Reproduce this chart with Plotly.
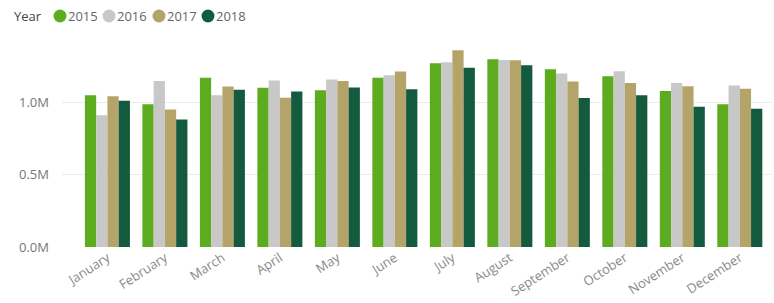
import plotly.graph_objects as go

months = ["January", "February", "March", "April", "May", "June", "July",
          "August", "September", "October", "November", "December"]
years = ["2015", "2016", "2017", "2018"]
v2015 = [1.048, 0.986, 1.168, 1.099, 1.083, 1.168, 1.269, 1.297, 1.228, 1.179, 1.078, 0.986]
v2016 = [0.910, 1.147, 1.048, 1.150, 1.157, 1.186, 1.276, 1.292, 1.198, 1.214, 1.133, 1.115]
v2017 = [1.041, 0.950, 1.108, 1.030, 1.147, 1.212, 1.359, 1.290, 1.143, 1.133, 1.110, 1.092]
v2018 = [1.009, 0.880, 1.085, 1.074, 1.101, 1.090, 1.237, 1.255, 1.028, 1.048, 0.968, 0.954]
colors = ["#5DAB1F", "#C8C8C8", "#B5A46A", "#135A3F"]

series = [v2015, v2016, v2017, v2018]

W, H = 774, 303
ML, MR, MT, MB = 62, 2, 37, 56
PW, PH = W - ML - MR, H - MT - MB

def px_x(px):
    return (px - ML) / PW

def px_y(py):
    return (H - MB - py) / PH

fig = go.Figure()
for name, vals, col in zip(years, series, colors):
    fig.add_trace(go.Bar(x=months, y=[v * 1e6 for v in vals], name=name,
                         marker=dict(color=col, line=dict(width=0)),
                         showlegend=False))

# Legend: title + circle markers + labels
legend_y = px_y(16)
fig.add_annotation(text="Year", xref="paper", yref="paper", x=px_x(12), y=legend_y,
                   xanchor="left", yanchor="middle", showarrow=False,
                   font=dict(size=13, color="#444444", family="Open Sans"))
circle_px = [60, 109, 159, 208]
for name, col, cx in zip(years, colors, circle_px):
    fig.add_shape(type="circle", xref="paper", yref="paper",
                  xsizemode="pixel", ysizemode="pixel",
                  xanchor=px_x(cx), yanchor=legend_y,
                  x0=-6.5, x1=6.5, y0=-6.5, y1=6.5,
                  fillcolor=col, line=dict(width=0))
    fig.add_annotation(text=name, xref="paper", yref="paper", x=px_x(cx + 6), y=legend_y,
                       xanchor="left", yanchor="middle", showarrow=False,
                       font=dict(size=13, color="#666666", family="Open Sans"))

fig.update_layout(
    width=W, height=H,
    margin=dict(l=ML, r=MR, t=MT, b=MB),
    paper_bgcolor="white", plot_bgcolor="white",
    font=dict(family="Open Sans", color="#777777", size=12),
    barmode="group", bargap=0.217, bargroupgap=0,
    showlegend=False,
    xaxis=dict(range=[-0.79, 11.56], tickangle=-33, showgrid=False, zeroline=False,
               showline=False, ticks="", automargin=False,
               tickfont=dict(size=13, color="#8A8A8A")),
    yaxis=dict(range=[0, 1.45e6], tickvals=[0, 0.5e6, 1.0e6],
               ticktext=["0.0M", "0.5M", "1.0M"], showgrid=True, gridcolor="#EBEBEB",
               gridwidth=1, zeroline=False, showline=False, ticks="", automargin=False,
               ticklabelstandoff=12,
               tickfont=dict(size=13, color="#777777")),
)
fig.write_html("out.html", config={"displayModeBar": False},
               post_script="document.body.style.margin='0';document.body.style.overflow='hidden';")
